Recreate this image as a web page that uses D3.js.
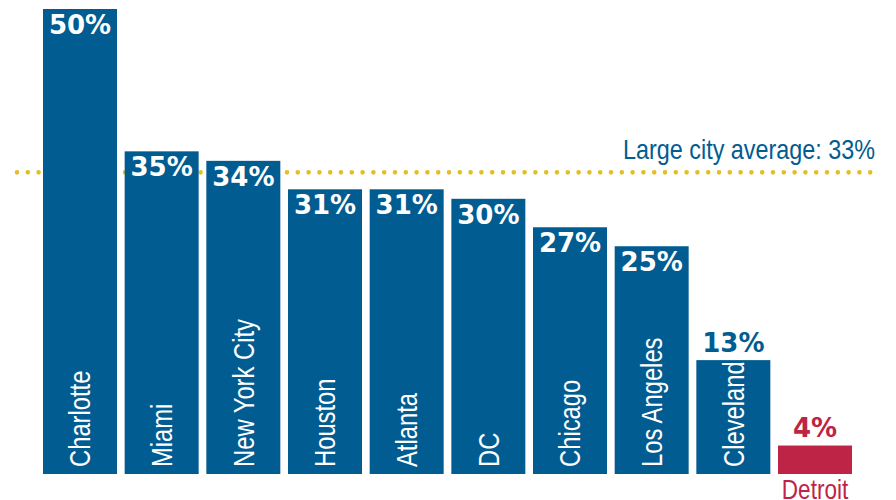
<!DOCTYPE html>
<html>
<head>
<meta charset="utf-8">
<script src="https://cdn.jsdelivr.net/npm/d3@7"></script>
<style>
  html, body { margin: 0; padding: 0; background: #fff; }
  svg { display: block; }
</style>
</head>
<body>
<svg id="chart" width="896" height="500"></svg>
<script>
// ---- data ----
const cities = ["Charlotte", "Miami", "New York City", "Houston", "Atlanta", "DC", "Chicago", "Los Angeles", "Cleveland", "Detroit"];
const shares = [50, 35, 34, 31, 31, 30, 27, 25, 13, 4];
const highlight = ["Detroit"];
const averageValue = 33;
const averageLabel = "Large city average: 33%";

// ---- style ----
const BLUE = "#015c91";
const RED = "#be2446";
const GOLD = "#e4be26";
const SANS = "'Liberation Sans', Arial, sans-serif";
const BOLD = "'DejaVu Sans', sans-serif";
const NARROW_X = 0.82; // horizontal compression to mimic a condensed face

const svg = d3.select("#chart");

const x = d3.scaleBand().domain(cities).range([43, 852]).paddingInner(0.094).paddingOuter(0);
const y = d3.scaleLinear().domain([1, 50]).range([474, 9]);
const base = y.range()[0];

const data = cities.map((c, i) => ({ city: c, value: shares[i], hi: highlight.includes(c) }));

// average dotted line
svg.append("line")
  .attr("x1", 17).attr("x2", 880)
  .attr("y1", y(averageValue) + 2).attr("y2", y(averageValue) + 2)
  .attr("stroke", GOLD).attr("stroke-width", 4.6)
  .attr("stroke-linecap", "round")
  .attr("stroke-dasharray", "0 10.8");

svg.append("text")
  .attr("transform", `translate(875,${y(averageValue) - 11}) scale(${NARROW_X},1)`)
  .attr("text-anchor", "end")
  .attr("font-family", SANS).attr("font-size", 28.5)
  .attr("fill", BLUE)
  .text(averageLabel);

// bars
svg.selectAll("rect.bar").data(data).join("rect")
  .attr("class", "bar")
  .attr("x", d => x(d.city))
  .attr("y", d => y(d.value))
  .attr("width", x.bandwidth())
  .attr("height", d => base - y(d.value))
  .attr("fill", d => d.hi ? RED : BLUE);

// value labels
svg.selectAll("text.val").data(data).join("text")
  .attr("class", "val")
  .attr("x", d => x(d.city) + x.bandwidth() / 2)
  .attr("y", d => d.value > 20 ? y(d.value) + 25 : y(d.value) - 8.5)
  .attr("text-anchor", "middle")
  .attr("font-family", BOLD).attr("font-weight", "bold").attr("font-size", 26)
  .attr("fill", d => d.value > 20 ? "#fff" : (d.hi ? RED : BLUE))
  .text(d => d.value + "%");

// category labels (rotated inside bars)
const inside = data.filter(d => !d.hi);
svg.selectAll("text.cat").data(inside).join("text")
  .attr("class", "cat")
  .attr("transform", d => `translate(${x(d.city) + x.bandwidth() / 2 + 10.4},467) rotate(-90) scale(${NARROW_X},1)`)
  .attr("font-family", SANS).attr("font-size", 29)
  .attr("fill", "#fff")
  .text(d => d.city);

// highlighted category label below bar
svg.selectAll("text.cathi").data(data.filter(d => d.hi)).join("text")
  .attr("class", "cathi")
  .attr("transform", d => `translate(${x(d.city) + x.bandwidth() / 2},499) scale(${NARROW_X},1)`)
  .attr("text-anchor", "middle")
  .attr("font-family", SANS).attr("font-size", 27.5)
  .attr("fill", RED)
  .text(d => d.city);
</script>
</body>
</html>
